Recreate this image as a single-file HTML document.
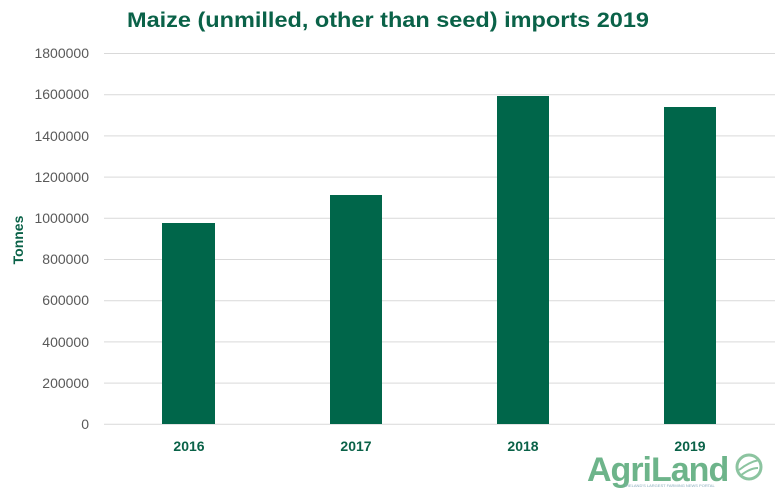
<!DOCTYPE html>
<html><head><meta charset="utf-8"><style>
body{margin:0;background:#fff;}
svg{display:block;font-family:"Liberation Sans",sans-serif;}
</style></head><body>
<svg width="778" height="490" viewBox="0 0 778 490">
<text x="388" y="27" text-anchor="middle" font-size="21" font-weight="bold" fill="#0a6248" textLength="522" lengthAdjust="spacingAndGlyphs">Maize (unmilled, other than seed) imports 2019</text>
<g stroke="#d9d9d9" stroke-width="1">
<line x1="104" x2="775" y1="53.5" y2="53.5"/>
<line x1="104" x2="775" y1="94.7" y2="94.7"/>
<line x1="104" x2="775" y1="135.9" y2="135.9"/>
<line x1="104" x2="775" y1="177.1" y2="177.1"/>
<line x1="104" x2="775" y1="218.3" y2="218.3"/>
<line x1="104" x2="775" y1="259.5" y2="259.5"/>
<line x1="104" x2="775" y1="300.7" y2="300.7"/>
<line x1="104" x2="775" y1="341.9" y2="341.9"/>
<line x1="104" x2="775" y1="383.1" y2="383.1"/>
<line x1="104" x2="775" y1="424.3" y2="424.3"/>
</g>
<g font-size="14" fill="#595959" text-anchor="end">
<text x="89" y="58">1800000</text>
<text x="89" y="99">1600000</text>
<text x="89" y="141">1400000</text>
<text x="89" y="182">1200000</text>
<text x="89" y="223">1000000</text>
<text x="89" y="264">800000</text>
<text x="89" y="305">600000</text>
<text x="89" y="347">400000</text>
<text x="89" y="388">200000</text>
<text x="89" y="429">0</text>
</g>
<text transform="translate(23,240) rotate(-90)" text-anchor="middle" font-size="14" font-weight="bold" fill="#0a6248">Tonnes</text>
<g fill="#00664a">
<rect x="162" y="223" width="53" height="201"/>
<rect x="330" y="195" width="52" height="229"/>
<rect x="497" y="96" width="52" height="328"/>
<rect x="664" y="107" width="52" height="317"/>
</g>
<g font-size="14" font-weight="bold" fill="#0a6248" text-anchor="middle">
<text x="189" y="451">2016</text>
<text x="356" y="451">2017</text>
<text x="523" y="451">2018</text>
<text x="690" y="451">2019</text>
</g>
<text x="587" y="481" font-size="34" font-weight="bold" fill="#6db48a" letter-spacing="-1">AgriLand</text>
<text x="625" y="487" font-size="4" fill="#8ab">IRELAND'S LARGEST FARMING NEWS PORTAL</text>
<circle cx="749" cy="467" r="12" fill="none" stroke="#8cc4a0" stroke-width="3"/>
<path d="M739 470 q10 -8 20 -10 M740 476 q10 -8 18 -8" stroke="#8cc4a0" stroke-width="2" fill="none"/>
</svg>
</body></html>
